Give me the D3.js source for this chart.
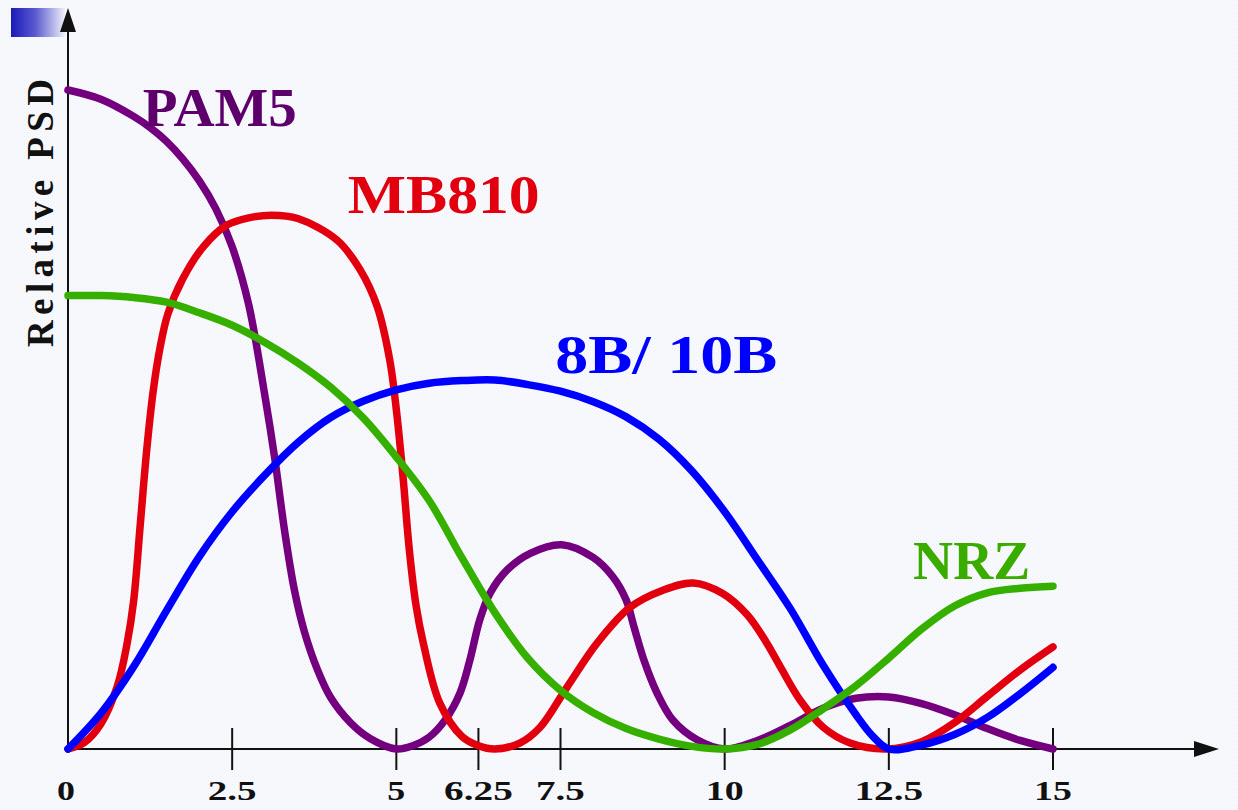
<!DOCTYPE html>
<html>
<head>
<meta charset="utf-8">
<script src="https://cdn.jsdelivr.net/npm/d3@7"></script>
<style>
  html, body { margin: 0; padding: 0; background: #ffffff; }
  svg { display: block; }
  text { font-family: "Liberation Serif", "Times New Roman", serif; font-weight: bold; }
</style>
</head>
<body>
<svg id="psd"></svg>
<script>
// relative PSD of the line codes as [frequency, value]
const pam5 = [
  [0, 1.0], [0.5, 0.986], [1, 0.96], [1.25, 0.943], [1.5, 0.922], [1.75, 0.895],
  [2, 0.862], [2.25, 0.82], [2.5, 0.762], [2.75, 0.675], [3, 0.535], [3.15, 0.44],
  [3.3, 0.33], [3.45, 0.24], [3.6, 0.178], [3.8, 0.12], [4, 0.078], [4.3, 0.04],
  [4.6, 0.016], [5, 0], [5.25, 0.005], [5.5, 0.018], [5.75, 0.045], [5.97, 0.085],
  [6.12, 0.135], [6.27, 0.196], [6.43, 0.237], [6.69, 0.272], [7.04, 0.297],
  [7.52, 0.31], [7.99, 0.291], [8.3, 0.261], [8.5, 0.226], [8.62, 0.185],
  [8.77, 0.135], [8.97, 0.085], [9.21, 0.044], [9.58, 0.014], [10, 0],
  [10.5, 0.013], [11, 0.036], [11.5, 0.062], [12, 0.077], [12.5, 0.079],
  [13, 0.069], [13.5, 0.052], [14, 0.031], [14.5, 0.013], [15, 0]
];
const mb810 = [
  [0, 0], [0.25, 0.01], [0.5, 0.038], [0.75, 0.095], [0.9, 0.16], [1.0, 0.225],
  [1.1, 0.34], [1.2, 0.455], [1.3, 0.545], [1.4, 0.608], [1.52, 0.66], [1.75, 0.714],
  [2.06, 0.762], [2.42, 0.795], [2.75, 0.806], [3.1, 0.81], [3.5, 0.805],
  [4.1, 0.772], [4.45, 0.727], [4.71, 0.671], [4.9, 0.59], [5.0, 0.515],
  [5.1, 0.415], [5.2, 0.3], [5.3, 0.218], [5.41, 0.161], [5.66, 0.07],
  [6.0, 0.019], [6.25, 0.005], [6.5, 0], [6.88, 0.009], [7.19, 0.033],
  [7.6, 0.094], [8.06, 0.161], [8.56, 0.215], [9.06, 0.241], [9.52, 0.252],
  [9.97, 0.236], [10.34, 0.204], [10.64, 0.161], [10.84, 0.126], [11.15, 0.074],
  [11.5, 0.033], [11.91, 0.009], [12.47, 0], [13, 0.011], [13.5, 0.04],
  [14, 0.08], [14.5, 0.12], [15, 0.155]
];
const code8b10b = [
  [0, 0], [0.5, 0.054], [1, 0.125], [1.5, 0.21], [2, 0.292], [2.5, 0.36],
  [3, 0.416], [3.5, 0.465], [4, 0.503], [4.5, 0.528], [5, 0.545], [5.5, 0.555],
  [6, 0.559], [6.5, 0.56], [7, 0.553], [7.5, 0.543], [8, 0.527], [8.5, 0.504],
  [9, 0.47], [9.5, 0.422], [10, 0.36], [10.5, 0.287], [11, 0.213], [11.5, 0.127],
  [12, 0.052], [12.25, 0.02], [12.5, 0], [13, 0.006], [13.5, 0.022], [14, 0.048],
  [14.5, 0.084], [15, 0.124]
];
const nrz = [
  [0, 0.688], [0.5, 0.688], [1, 0.685], [1.5, 0.678], [2, 0.662], [2.5, 0.643],
  [3, 0.617], [3.5, 0.586], [4, 0.549], [4.5, 0.502], [5, 0.443], [5.5, 0.377],
  [6, 0.29], [6.5, 0.207], [7, 0.138], [7.5, 0.089], [8, 0.055], [8.5, 0.031],
  [9, 0.015], [9.5, 0.004], [10, 0], [10.5, 0.007], [11, 0.029], [11.5, 0.061],
  [12, 0.096], [12.5, 0.138], [13, 0.182], [13.5, 0.217], [14, 0.237],
  [14.5, 0.244], [15, 0.247]
];

const seriesNames = ["PAM5", "MB810", "8B/ 10B", "NRZ"];
const seriesData = [pam5, mb810, code8b10b, nrz];
const lineColors = ["#74007f", "#e2000e", "#0000ff", "#35b000"];
const labelColors = ["#5e006c", "#e2000e", "#0000ff", "#3aac00"];
// where each name sits, in chart units [frequency, value] and its drawn width
const labelAt = [[1.14, 0.945], [4.26, 0.813], [7.42, 0.571], [12.87, 0.258]];
const labelWidth = [154, 192, 222, 117];

const tickValues = [2.5, 5, 6.25, 7.5, 10, 12.5, 15];
const tickLabels = ["2.5", "5", "6.25", "7.5", "10", "12.5", "15"];

const width = 1238, height = 810;

const svg = d3.select("#psd").attr("width", width).attr("height", height);

// pale dotted background
const defs = svg.append("defs");
const pat = defs.append("pattern").attr("id", "dots")
  .attr("width", 4).attr("height", 4).attr("patternUnits", "userSpaceOnUse");
pat.append("rect").attr("width", 4).attr("height", 4).attr("fill", "#f8f9fc");
pat.append("rect").attr("width", 1).attr("height", 1).attr("fill", "#eceef6");
pat.append("rect").attr("x", 2).attr("y", 2).attr("width", 1).attr("height", 1).attr("fill", "#eceef6");
svg.append("rect").attr("width", width).attr("height", height).attr("fill", "url(#dots)");

// blue gradient block in the corner
const grad = defs.append("linearGradient").attr("id", "corner");
grad.append("stop").attr("offset", "0%").attr("stop-color", "#1a1ab8");
grad.append("stop").attr("offset", "45%").attr("stop-color", "#5a5ad0");
grad.append("stop").attr("offset", "100%").attr("stop-color", "#f0f0fa");
svg.append("rect").attr("x", 11).attr("y", 8).attr("width", 54).attr("height", 29)
  .attr("fill", "url(#corner)");

const x = d3.scaleLinear().domain([0, 15]).range([68, 1053]);
const y = d3.scaleLinear().domain([0, 1]).range([749, 90]);

// axes with arrow heads
const axis = svg.append("g").attr("stroke", "#111").attr("stroke-width", 2);
axis.append("line").attr("x1", x(0)).attr("x2", 1200).attr("y1", y(0)).attr("y2", y(0));
axis.append("line").attr("x1", x(0)).attr("x2", x(0)).attr("y1", y(0)).attr("y2", 25);
svg.append("path")
  .attr("d", `M${x(0)},8 L${x(0) - 8},32 L${x(0) + 8},32 Z`)
  .attr("fill", "#111");
svg.append("path")
  .attr("d", `M1219,${y(0)} L1194,${y(0) - 8} L1194,${y(0) + 8} Z`)
  .attr("fill", "#111");

axis.selectAll("line.tick")
  .data(tickValues)
  .enter()
  .append("line")
  .attr("class", "tick")
  .attr("x1", d => x(d)).attr("x2", d => x(d))
  .attr("y1", y(0) - 21).attr("y2", y(0) + 21);

// tick labels, drawn wide like the original
svg.append("g")
  .selectAll("text")
  .data([0].concat(tickValues))
  .enter()
  .append("text")
  .attr("x", d => x(d) - (d === 0 ? 2 : 0))
  .attr("y", 800)
  .attr("text-anchor", "middle")
  .attr("font-size", 28)
  .attr("fill", "#111")
  .text((d, i) => i === 0 ? "0" : tickLabels[i - 1])
  .each(function () {
    const n = this.textContent.length;
    const w = this.getComputedTextLength();
    d3.select(this).attr("textLength", w * 1.28 + (n - 1) * 2)
      .attr("lengthAdjust", "spacingAndGlyphs");
  });

// y axis title
svg.append("text")
  .attr("transform", "translate(53,347) rotate(-90)")
  .attr("font-size", 37)
  .attr("fill", "#111")
  .attr("textLength", 268)
  .attr("lengthAdjust", "spacing")
  .text("Relative PSD");

// the four curves
const line = d3.line()
  .x(d => x(d[0]))
  .y(d => y(Math.max(0, d[1])))
  .curve(d3.curveCatmullRom.alpha(0.5));

svg.append("g")
  .selectAll("path")
  .data(seriesData)
  .enter()
  .append("path")
  .attr("d", line)
  .attr("fill", "none")
  .attr("stroke", (d, i) => lineColors[i])
  .attr("stroke-width", 7.5)
  .attr("stroke-linecap", "round")
  .attr("stroke-linejoin", "round");

// series names
svg.append("g")
  .selectAll("text")
  .data(seriesNames)
  .enter()
  .append("text")
  .attr("x", (d, i) => x(labelAt[i][0]))
  .attr("y", (d, i) => y(labelAt[i][1]))
  .attr("font-size", 55)
  .attr("fill", (d, i) => labelColors[i])
  .attr("textLength", (d, i) => labelWidth[i])
  .attr("lengthAdjust", "spacingAndGlyphs")
  .text(d => d);
</script>
</body>
</html>
